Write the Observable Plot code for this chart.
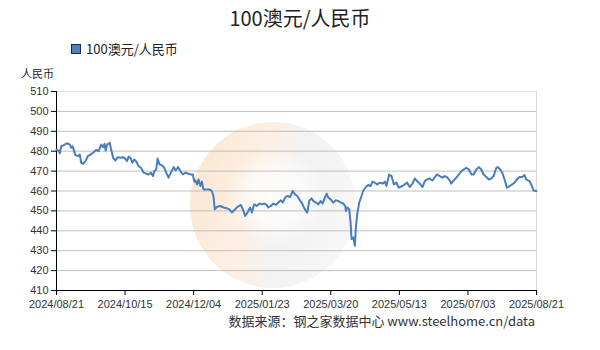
<!DOCTYPE html>
<html><head><meta charset="utf-8">
<script src="https://cdn.jsdelivr.net/npm/d3@7"></script>
<script src="https://cdn.jsdelivr.net/npm/@observablehq/plot@0.6"></script>
<style>
body{margin:0;background:#fff;font-family:"Noto Sans CJK SC","Liberation Sans",sans-serif;}
#wrap{position:relative;width:600px;height:350px;overflow:hidden;background:#fff}
#wm{position:absolute;left:190px;top:122px;width:166px;height:166px;border-radius:50%;
 background:
  radial-gradient(circle at 52% 45%, rgba(255,255,255,0.9) 0%, rgba(255,255,255,0.6) 22%, rgba(255,255,255,0) 40%),
  linear-gradient(105deg, rgba(247,200,150,0.45) 0%, rgba(250,215,185,0.40) 38%, rgba(232,232,232,0.55) 58%, rgba(236,236,236,0.35) 100%);}
#chart{position:absolute;left:0;top:0}
#title{position:absolute;left:0;width:600px;top:5px;text-align:center;font-size:20px;color:#222;line-height:26px}
#legend{position:absolute;left:71px;top:40px;font-size:13px;color:#222;line-height:18px;display:flex;align-items:center}
#legend .sw{width:8px;height:8px;background:#4f81bd;border:1px solid #1a2a40;margin-right:5px}
#ylab{position:absolute;left:21px;top:65px;font-size:11px;color:#222;line-height:16px}
#cap{position:absolute;right:65px;top:312px;font-size:13px;color:#333;line-height:18px}
</style></head><body>
<div id="wrap">
<div id="wm"></div>
<div id="chart"></div>
<div id="title"></div>
<div id="legend"><span class="sw"></span><span id="legtext"></span></div>
<div id="ylab"></div>
<div id="cap"></div>
</div>
<script>
const titleText = "100澳元/人民币";
const seriesName = "100澳元/人民币";
const unitLabel = "人民币";
const caption = "数据来源：钢之家数据中心 www.steelhome.cn/data";

const tickLabels = ["2024/08/21","2024/10/15","2024/12/04","2025/01/23","2025/03/20","2025/05/13","2025/07/03","2025/08/21"];
const tickPos = [0,35,70,105,140,175,210,245];
const yTicks = [410,420,430,440,450,460,470,480,490,500,510];

// position along the trading-day axis (0 = 2024/08/21, 245 = 2025/08/21)
const pos = [
 0,1.2,1.7,2.4,3.7,5.4,6.8,7.5,8.2,8.8,
 9.7,10.9,11.9,12.6,13.6,14.8,16,17.3,19,20.4,
 21.5,22.8,23.8,24.5,25.1,25.8,27.2,27.9,28.9,30.1,
 31.2,32.6,34,35.1,36,36.8,38,38.7,39.7,40.8,
 41.9,43.1,44.5,45.8,47,48.2,49.3,49.9,50.9,51.6,
 52.6,53.8,55,56,57.2,58.4,59.8,60.8,62.1,63.2,
 64.5,65.9,67.4,68.6,69.6,70.3,71,71.7,72.5,73.4,
 74.2,75,76.8,78.1,79.3,80.1,80.8,81.9,83.5,85.2,
 87,88.3,89.5,90.7,92,94.1,95.4,96.3,97.5,98.8,
 99.7,100.9,102.2,103.6,104.8,106,107.3,108.1,109.4,110.7,
 112.1,113.2,114.5,115.5,116.7,117.8,119.2,120.6,121.7,122.9,
 123.9,125.1,126.3,127.3,128,129,130.2,131.1,132.4,133.6,
 134.8,135.8,137,137.9,138.7,139.9,141.3,142.6,143.8,145,
 146.3,147.4,147.7,148.4,149.4,150.1,150.6,151.5,152.3,152.8,
 153.5,154.5,155.7,156.5,157.9,159.1,160.3,161.3,162.5,163.7,
 165,166.4,167.6,168.4,169.8,171,172.2,173.5,174.7,176.5,
 177.8,178.9,180.3,181.7,182.9,184,185.4,186.8,188,189.1,
 190.5,191.9,193.1,194.2,195.6,197,198.2,199.3,200.7,201.5,
 202.7,204.1,205.4,206.7,207.8,209.2,210.5,211.8,212.9,214.3,
 215.6,216.8,218,219.4,220.7,221.9,223.1,224.5,225.3,226.5,
 227.5,228.7,229.9,231.3,232.6,233.8,235,236.3,237.7,238.9,
 239.7,240.6,241.4,242.3,243.5,245
];
const rate = [
 480.8,480,479,482.5,483,484,483.3,481.7,482.5,480.8,
 478,477.5,478.3,474.2,473.7,475,477.5,478.3,479.5,480.7,
 480,483.3,482,483.7,480.3,483.3,484.2,480.8,476.7,475.3,
 477,476.7,477,476.3,475,477.3,476.3,474.2,475.8,474.7,
 472.5,471.7,469.2,468.7,468.3,469.2,467.5,470,470.8,476.3,
 473.3,473,471.7,469.2,466.7,469.2,472,470.3,472,470,
 468.3,469.2,468.7,468.3,468.3,464.7,465.3,463.3,465.8,462.5,
 464.7,460.8,460.8,460.8,460,457.5,450.8,452,452.5,451.7,
 451.3,450.8,449.2,450.3,451.7,453,450,447.5,449.2,451.7,
 449.2,453.3,452.5,453.7,453.3,453.7,453,451.7,452.5,453.7,
 453,454.2,455.3,454.2,456.7,457.5,457,460,458.3,457.5,
 455.8,454.2,451.7,450,449.2,455,456.3,455,454.2,453.3,
 455,453.7,456.7,458.7,456.7,455.8,454.2,455.3,455,454.2,
 453.7,452.5,450,451.7,450.8,444.2,435.8,436.7,432.5,441.7,
 448.3,454.2,457.5,460,462,463,462.5,464.7,464.2,463.3,
 464.2,463.7,464.7,462.5,468.3,467.5,463.3,464.2,461.7,462.5,
 463.3,464.2,462,463.7,466.3,465,463.7,462,465,465.8,
 466.3,465.3,467,468.3,467.5,466.7,467.5,467,465.3,463.7,
 465.3,466.7,468.3,470,470.8,471.7,470.8,468.3,468.3,470.8,
 472,470.8,468.3,467,465.8,466.3,467.5,471.7,472,470.8,
 469.2,465.8,461.7,462.5,463.3,464.2,465.8,467,467,468,
 465.8,465.3,465,463.3,460.3,460
];

const data = pos.map((p, i) => ({pos: p, rate: rate[i]}));
const labelAt = new Map(tickPos.map((p, i) => [p, tickLabels[i]]));

document.getElementById("title").textContent = titleText;
document.getElementById("legtext").textContent = seriesName;
document.getElementById("ylab").textContent = unitLabel;
document.getElementById("cap").textContent = caption;

const chart = Plot.plot({
  width: 600, height: 350,
  marginTop: 91, marginBottom: 60, marginLeft: 56, marginRight: 64,
  style: {background: "transparent", fontFamily: "'Liberation Sans', sans-serif", fontSize: "11px", color: "#333", overflow: "visible"},
  x: {domain: [0, 245]},
  y: {domain: [410, 510]},
  marks: [
    Plot.gridY(yTicks.filter(d => d > 410 && d < 510), {stroke: "#bfbfbf", strokeOpacity: 1}),
    Plot.gridY([510], {stroke: "#e3e3e3", strokeOpacity: 1}),
    Plot.ruleX([245], {stroke: "#dcdcdc"}),
    Plot.axisY({ticks: yTicks, tickSize: 5, tickPadding: 3, label: null, stroke: "#000", fill: "#333"}),
    Plot.axisX({ticks: tickPos, tickFormat: d => labelAt.get(d), tickSize: 5, tickPadding: 5, label: null, stroke: "#000", fill: "#333"}),
    Plot.ruleX([0], {stroke: "#000"}),
    Plot.ruleY([410], {stroke: "#000"}),
    Plot.line(data, {x: "pos", y: "rate", stroke: "#4a7dbd", strokeWidth: 2})
  ]
});
document.getElementById("chart").appendChild(chart);
</script>
</body></html>
